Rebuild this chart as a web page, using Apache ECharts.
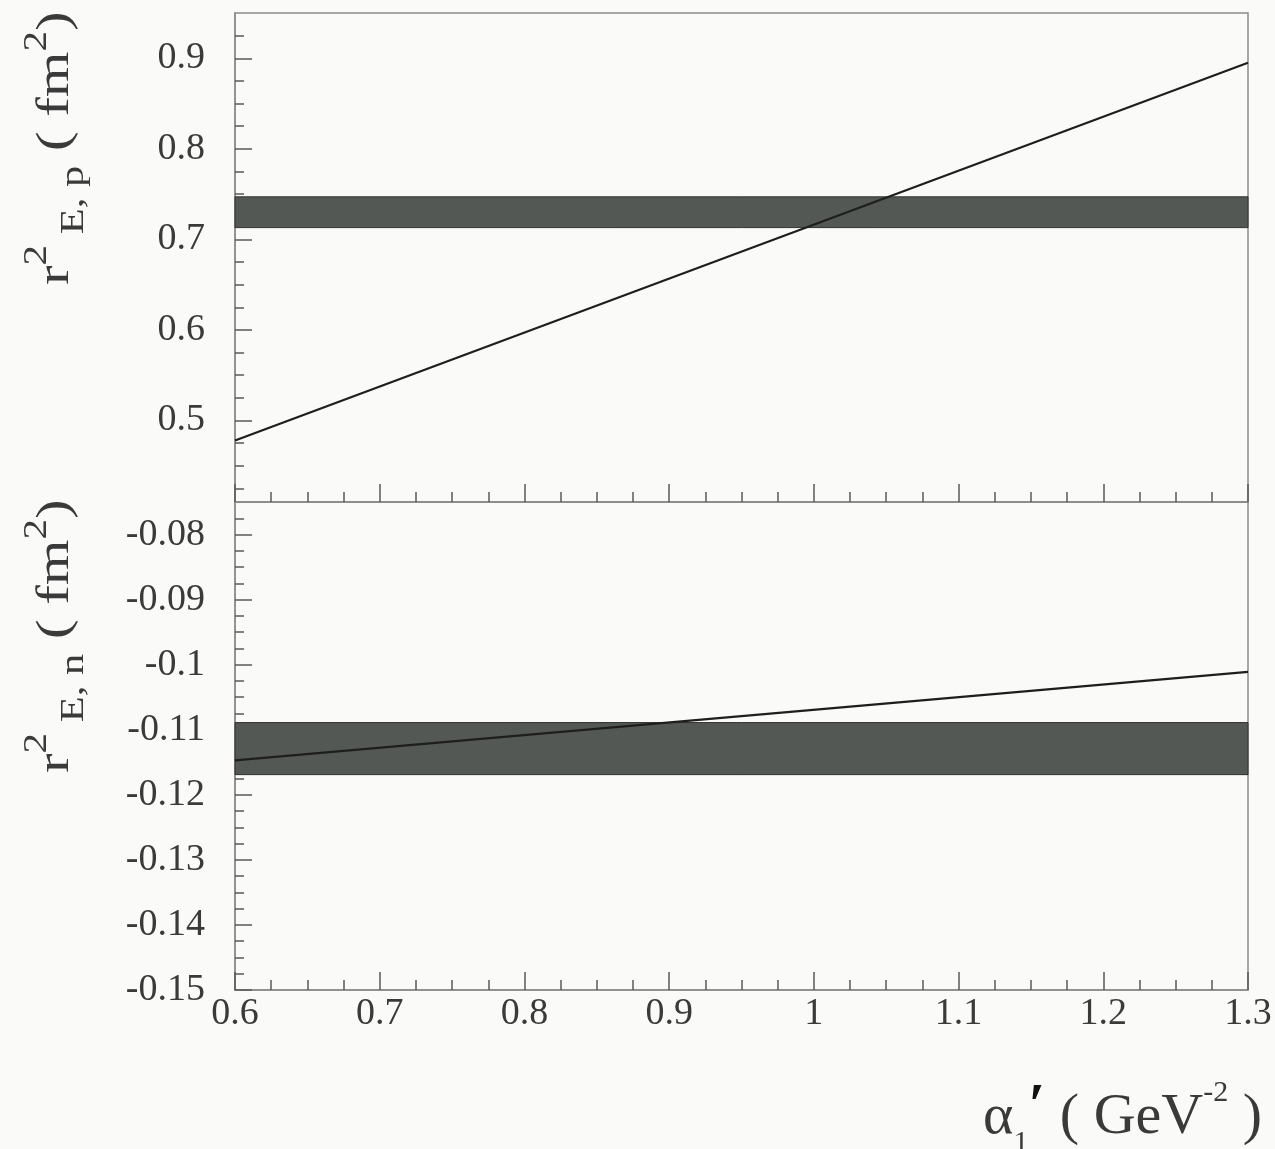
<!DOCTYPE html>
<html>
<head>
<meta charset="utf-8">
<script src="https://cdn.jsdelivr.net/npm/echarts@6/dist/echarts.min.js"></script>
<style>
  html, body { margin: 0; padding: 0; background: #fafaf8; }
  #chart { width: 1275px; height: 1149px; }
</style>
</head>
<body>
<div id="chart"></div>
<script>
// values
const lineX = [0.6, 1.3];
const protonY = [0.478, 0.895];
const neutronY = [-0.1147, -0.1011];
const protonBand = [0.713, 0.747];
const neutronBand = [-0.1169, -0.1089];

// axes
const xRange = [0.6, 1.3];
const protonRange = [0.41, 0.95];
const neutronRange = [-0.15, -0.075];
const protonTicks = [0.5, 0.6, 0.7, 0.8, 0.9];
const neutronTicks = [-0.15, -0.14, -0.13, -0.12, -0.11, -0.1, -0.09, -0.08];

const serif = '"Liberation Serif", "DejaVu Serif", serif';
const axisColor = '#8c8c8c';
const tickColor = '#5a5a5a';
const textColor = '#3a3a3a';
const bandColor = '#535855';
const lineColor = '#1e1e1e';

function minorTicks(range, step, major) {
  const out = [];
  for (let k = Math.ceil(range[0] / step - 1e-9); k * step <= range[1] + 1e-9; k++) {
    const v = +(k * step).toFixed(6);
    if (v > range[0] && v < range[1] && !major.some(m => Math.abs(m - v) < 1e-9)) out.push(v);
  }
  return out;
}

const fmt = v => String(+(+v).toFixed(4));

function xAxis(grid, labels) {
  return {
    type: 'value', gridIndex: grid, min: xRange[0], max: xRange[1], interval: 0.1,
    axisLine: { show: true, lineStyle: { color: axisColor, width: 1.5 } },
    axisTick: { show: true, inside: true, length: 18, lineStyle: { color: tickColor, width: 1.5 } },
    minorTick: { show: true, splitNumber: 4, length: 10, lineStyle: { color: tickColor, width: 1.5 } },
    axisLabel: { show: labels, margin: 5, fontSize: 38, fontFamily: serif, color: textColor, formatter: fmt },
    splitLine: { show: false }, minorSplitLine: { show: false }
  };
}

function yMajor(grid, range, ticks) {
  return {
    type: 'value', gridIndex: grid, position: 'left', offset: 0, min: range[0], max: range[1],
    axisLine: { show: true, lineStyle: { color: axisColor, width: 1.5 } },
    axisTick: { show: true, inside: true, length: 17, customValues: ticks, lineStyle: { color: tickColor, width: 1.5 } },
    axisLabel: { show: true, customValues: ticks, margin: 30, fontSize: 38, fontFamily: serif, color: textColor, formatter: fmt },
    splitLine: { show: false }
  };
}

function yMinor(grid, range, ticks) {
  return {
    type: 'value', gridIndex: grid, position: 'left', offset: 0, min: range[0], max: range[1],
    axisLine: { show: false },
    axisTick: { show: true, inside: true, length: 9, customValues: minorTicks(range, ticks[1] - ticks[0] > 0.05 ? 0.025 : 0.0025, ticks),
      lineStyle: { color: tickColor, width: 1.5 } },
    axisLabel: { show: false },
    splitLine: { show: false }
  };
}

function band(xi, yi, b) {
  return {
    type: 'line', xAxisIndex: xi, yAxisIndex: yi, data: [], z: 1, silent: true,
    markArea: {
      silent: true,
      itemStyle: { color: bandColor, borderColor: '#303331', borderWidth: 1 },
      data: [[{ yAxis: b[0] }, { yAxis: b[1] }]]
    }
  };
}

function line(xi, yi, ys) {
  return {
    type: 'line', xAxisIndex: xi, yAxisIndex: yi, z: 5, symbol: 'none', silent: true,
    lineStyle: { color: lineColor, width: 2.2 },
    data: lineX.map((x, i) => [x, ys[i]])
  };
}

const yTitleRich = {
  m: { fontSize: 47, lineHeight: 70, fontFamily: serif, fill: textColor },
  sup: { fontSize: 33, lineHeight: 2, verticalAlign: 'top', fontFamily: serif, fill: textColor },
  sub: { fontSize: 34, lineHeight: 33, verticalAlign: 'bottom', fontFamily: serif, fill: textColor }
};

function yTitle(startY, subText) {
  return {
    type: 'text', x: 21, y: startY, rotation: Math.PI / 2, scaleX: 1.25,
    style: {
      text: '{m|r}{sup|2}{sub| E, ' + subText + '}{m| ( fm}{sup|2}{m|)}',
      rich: yTitleRich, align: 'left', verticalAlign: 'top'
    }
  };
}

const chart = echarts.init(document.getElementById('chart'), null, { renderer: 'canvas' });
chart.setOption({
  backgroundColor: '#fafaf8',
  animation: false,
  grid: [
    { left: 235, right: 27, top: 13, height: 489, show: true, borderColor: axisColor, borderWidth: 1.5, backgroundColor: 'transparent', outerBoundsMode: 'none' },
    { left: 235, right: 27, top: 502, height: 488, show: true, borderColor: axisColor, borderWidth: 1.5, backgroundColor: 'transparent', outerBoundsMode: 'none' }
  ],
  xAxis: [xAxis(0, false), xAxis(1, true)],
  yAxis: [
    yMajor(0, protonRange, protonTicks), yMinor(0, protonRange, protonTicks),
    yMajor(1, neutronRange, neutronTicks), yMinor(1, neutronRange, neutronTicks)
  ],
  series: [
    band(0, 0, protonBand), line(0, 0, protonY),
    band(1, 2, neutronBand), line(1, 2, neutronY)
  ],
  graphic: [
    yTitle(285, 'p'),
    yTitle(773, 'n'),
    {
      type: 'text', x: 1262, y: 1078,
      style: {
        text: '{m|α}{sub|1}{pr|′}{m| ( GeV}{sup|-2}{m| )}',
        align: 'right', verticalAlign: 'top',
        rich: {
          m: { fontSize: 58, lineHeight: 80, fontFamily: serif, fill: textColor },
          sub: { fontSize: 30, lineHeight: 20, verticalAlign: 'bottom', fontFamily: serif, fill: textColor },
          sup: { fontSize: 30, lineHeight: 28, verticalAlign: 'top', fontFamily: serif, fill: textColor },
          pr: { fontSize: 60, lineHeight: 24, verticalAlign: 'top', fontWeight: 'bold', fontFamily: serif, fill: '#111' }
        }
      }
    }
  ]
});
</script>
</body>
</html>
